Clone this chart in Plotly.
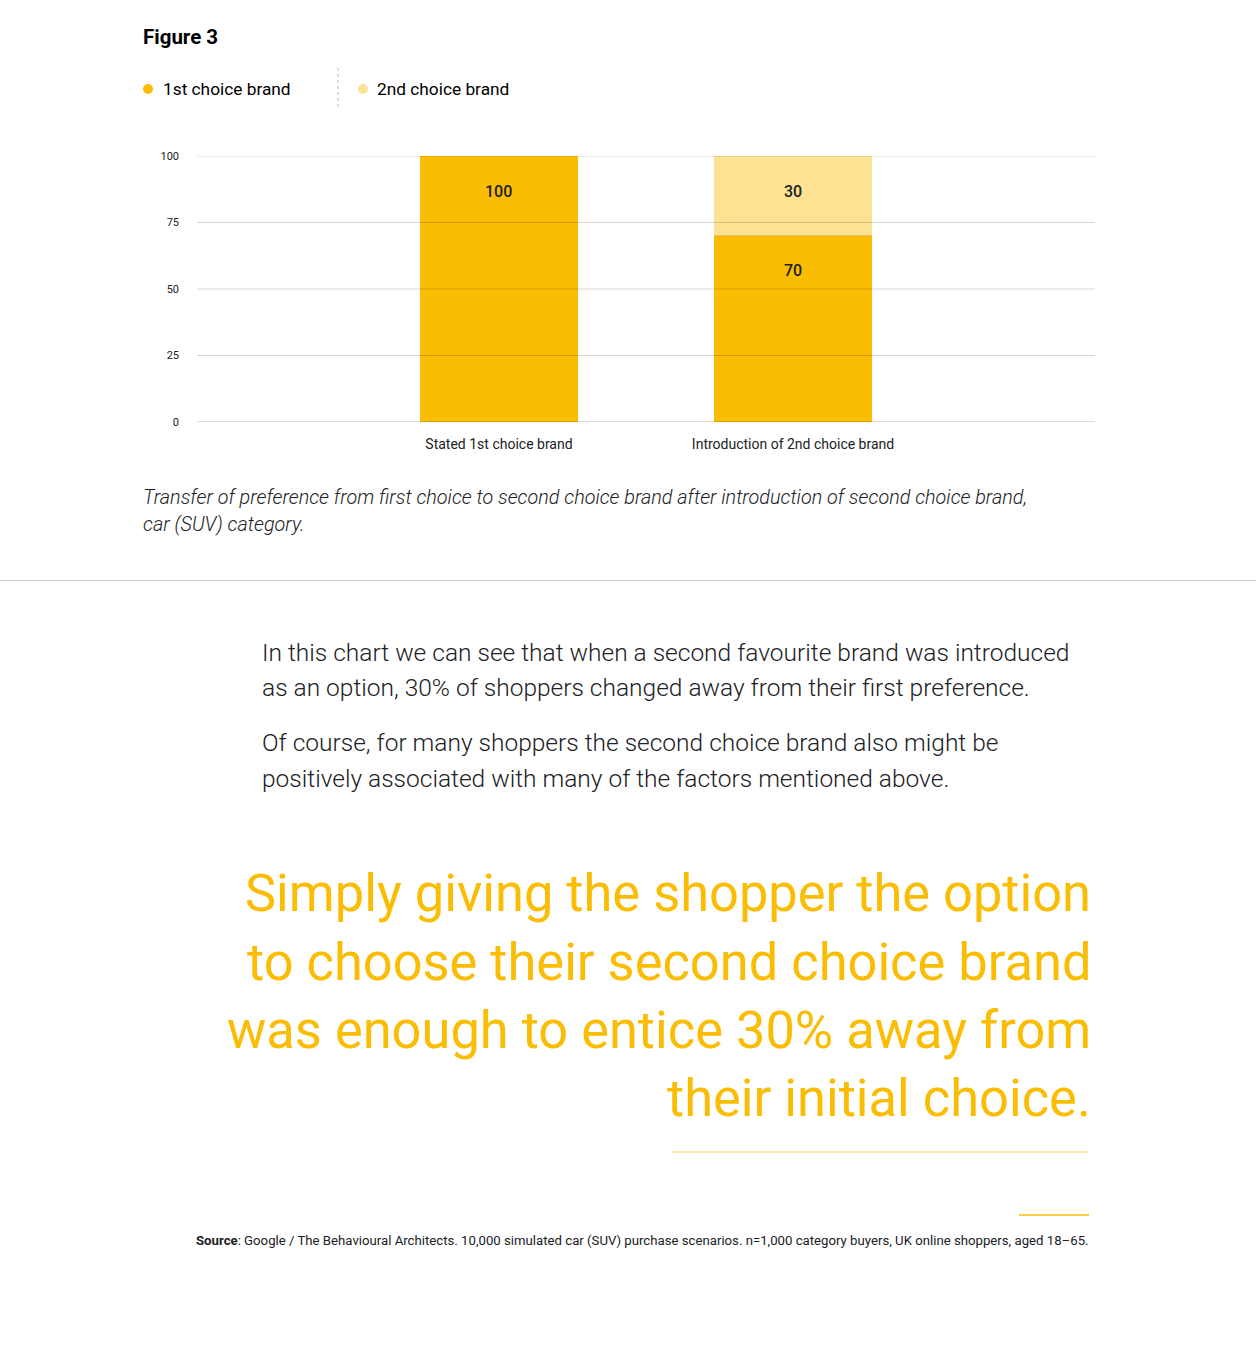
import plotly.graph_objects as go

categories = ["Stated 1st choice brand", "Introduction of 2nd choice brand"]
first_choice = [100, 70]
second_choice = [0, 30]
y_ticks = [0, 25, 50, 75, 100]
series_names = ["1st choice brand", "2nd choice brand"]

C1 = "#FBBC04"
C2 = "#FDE293"
W, H = 1256, 1346
L, R, T, B = 197, 1095, 156, 422
PW, PH = R - L, B - T


def px(x):
    return (x - L) / PW


def py(y):
    return (B - y) / PH


fig = go.Figure()
fig.add_trace(go.Bar(x=categories, y=first_choice, name=series_names[0],
                     marker=dict(color=C1, line=dict(width=0)), width=0.537))
fig.add_trace(go.Bar(x=categories, y=second_choice, name=series_names[1],
                     marker=dict(color=C2, line=dict(width=0)), width=0.537))

# value labels
for i, c in enumerate(categories):
    f, s = first_choice[i], second_choice[i]
    if s > 0:
        fig.add_annotation(x=c, y=f + s, xref="x", yref="y", text=str(s), showarrow=False,
                           yshift=-35, font=dict(family="Roboto", size=16, color="#202124", weight=500))
    fig.add_annotation(x=c, y=f, xref="x", yref="y", text=str(f), showarrow=False,
                       yshift=-35, font=dict(family="Roboto", size=16, color="#202124", weight=500))

shapes = []
# gridlines on top of bars
for t in y_ticks:
    shapes.append(dict(type="line", xref="paper", yref="y", x0=0, x1=1, y0=t, y1=t,
                       line=dict(color="rgba(0,0,0,0.28)" if t == 0 else "rgba(0,0,0,0.16)", width=1),
                       layer="above"))
# boundary between stacked segments
for i, c in enumerate(categories):
    if second_choice[i] > 0:
        shapes.append(dict(type="line", xref="x", yref="y", x0=i - 0.2685, x1=i + 0.2685,
                           y0=first_choice[i], y1=first_choice[i],
                           line=dict(color="rgba(200,140,0,0.5)", width=1), layer="above"))

# full-width separator
shapes.append(dict(type="line", xref="paper", yref="paper", x0=px(0), x1=px(W), y0=py(580.5), y1=py(580.5),
                   line=dict(color="#cccccc", width=1)))
# legend separator (dotted)
shapes.append(dict(type="line", xref="paper", yref="paper", x0=px(338), x1=px(338), y0=py(68), y1=py(107),
                   line=dict(color="#bdbdbd", width=1, dash="dot")))
# legend dots
for cx, col in [(148, C1), (363, C2)]:
    shapes.append(dict(type="circle", xref="paper", yref="paper", x0=px(cx - 5), x1=px(cx + 5),
                       y0=py(89 + 5), y1=py(89 - 5), fillcolor=col, line=dict(width=0)))
# yellow rules
shapes.append(dict(type="line", xref="paper", yref="paper", x0=px(671), x1=px(1089), y0=py(1152), y1=py(1152),
                   line=dict(color="#FDE293", width=1.5)))
shapes.append(dict(type="line", xref="paper", yref="paper", x0=px(1019), x1=px(1089), y0=py(1215), y1=py(1215),
                   line=dict(color="#FBBC04", width=1.5)))


def ann(x, y, text, size, color="#202124", xanchor="left", family="Roboto", weight=400, style="normal"):
    fig.add_annotation(x=px(x), y=py(y), xref="paper", yref="paper", text=text, showarrow=False,
                       xanchor=xanchor, yanchor="middle", align=xanchor,
                       font=dict(family=family, size=size, color=color, weight=weight, style=style))


ann(141, 37, "Figure 3", 20.5, "#000000", weight=700)
ann(161, 89, series_names[0], 17.3, "#000000", weight=400)
ann(375, 89, series_names[1], 17.3, "#000000", weight=400)

ann(141, 497, "Transfer of preference from first choice to second choice brand after introduction of second choice brand,",
    19.8, "#202124", style="italic", weight=300)
ann(141, 524, "car (SUV) category.", 19.8, "#202124", style="italic", weight=300)

body = [("In this chart we can see that when a second favourite brand was introduced", 652),
        ("as an option, 30% of shoppers changed away from their first preference.", 687),
        ("Of course, for many shoppers the second choice brand also might be", 742),
        ("positively associated with many of the factors mentioned above.", 778)]
for t, y in body:
    ann(260, y, t, 24.5, "#202124", weight=300)

quote = [("Simply giving the shopper the option", 893),
         ("to choose their second choice brand", 962),
         ("was enough to entice 30% away from", 1030),
         ("their initial choice.", 1098)]
for t, y in quote:
    ann(1093, y, t, 52.4, C1, xanchor="right", weight=400)

ann(1091, 1240, "<b>Source</b>: Google / The Behavioural Architects. 10,000 simulated car (SUV) purchase scenarios. "
                "n=1,000 category buyers, UK online shoppers, aged 18\u201365.", 13.2, "#202124", xanchor="right")

fig.update_layout(
    width=W, height=H, barmode="stack", showlegend=False,
    margin=dict(l=L, r=W - R, t=T, b=H - B, pad=0),
    paper_bgcolor="white", plot_bgcolor="white",
    shapes=shapes,
    font=dict(family="Roboto", color="#202124"),
    xaxis=dict(type="category", range=[-1.027, 2.027], showgrid=False, zeroline=False, showline=False,
               ticks="", tickfont=dict(size=14, color="#202124", family="Roboto"), ticklabelstandoff=12),
    yaxis=dict(range=[0, 100], tickvals=y_ticks, showgrid=False, zeroline=False, showline=False,
               ticks="", tickfont=dict(size=11, color="#202124", family="Roboto"), ticklabelstandoff=17),
)

fig.write_html("out.html")
